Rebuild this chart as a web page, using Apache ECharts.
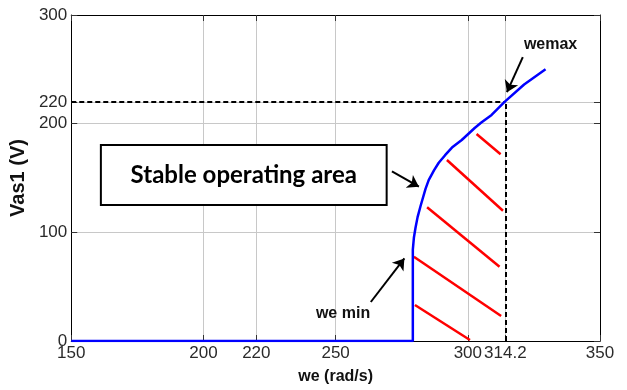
<!DOCTYPE html>
<html><head><meta charset="utf-8">
<script src="https://cdn.jsdelivr.net/npm/echarts@6/dist/echarts.min.js"></script>
<style>html,body{margin:0;padding:0;background:#fff}#c{width:627px;height:390px}</style>
</head><body><div id="c"></div>
<script>
// ---- data ----
const xTicks = [150, 200, 220, 250, 300, 314.2, 350];
const yTicks = [0, 100, 200, 220, 300];
const curveWe = [150, 279.2, 279.2, 279.6, 280.2, 281.0, 282.1, 284.0, 285.2, 287.2, 289.0, 291.4, 294.0, 297.7, 302.6, 305.1, 309.0, 313.9, 321.3, 329.4];
const curveV  = [0,   0,     84,    95,    104,   114,   124,   140,   148,   157,   164,   171,   178,   185,   196,   201,   208,   220,   236,   250];
const hatchStartWe = [303.3, 292.1, 284.6, 279.6, 280.0];
const hatchStartV  = [190.5, 166.6, 123.0, 77.6, 33.1];
const hatchEndWe   = [312.4, 313.3, 312.0, 312.6, 300.8];
const hatchEndV    = [171.8, 119.9, 68.4, 23.0, 0.9];
const weMax = 314.2;
const vMax = 220;
const boxText = 'Stable operating area';
const labelTexts = ['we min', 'wemax'];

// ---- annotation placement (data units) ----
const boxCorners = [[161.2, 180.4], [269.3, 125.2]];
const labelAt = [[252.8, 24.8], [331.3, 272.4]];
const arrows = [
  [[271.3, 156.0], [281.5, 142.0]],
  [[263.3, 35.9], [276.0, 76.0]],
  [[320.8, 261.3], [314.8, 229.0]]
];

const SANS = "'Liberation Sans',Arial,sans-serif";
const curve = curveWe.map((w, i) => [w, curveV[i]]);
const hatch = hatchStartWe.map((w, i) => [
  { coord: [w, hatchStartV[i]] },
  { coord: [hatchEndWe[i], hatchEndV[i]] }
]);

const tickLbl = { fontFamily: SANS, fontSize: 17, color: '#2a2a2a' };

const chart = echarts.init(document.getElementById('c'));
chart.setOption({
  animation: false,
  backgroundColor: '#fff',
  grid: { left: 65, right: 27, top: 15, bottom: 49, show: false },
  xAxis: [{
    type: 'value', min: 150, max: 350, position: 'bottom',
    axisLine: { show: true, onZero: false, lineStyle: { color: '#000', width: 1 } },
    axisTick: { show: true, inside: true, length: 6, customValues: xTicks, lineStyle: { color: '#333' } },
    axisLabel: Object.assign({ customValues: xTicks, margin: 4 }, tickLbl),
    splitLine: { show: true, lineStyle: { color: '#c8c8c8', width: 1 } },
    name: 'we (rad/s)', nameLocation: 'middle', nameGap: 28,
    nameTextStyle: { fontFamily: SANS, fontWeight: 'bold', fontSize: 16, color: '#111' }
  }, {
    type: 'value', min: 150, max: 350, position: 'top',
    axisLine: { show: true, onZero: false, lineStyle: { color: '#000', width: 1 } },
    axisTick: { show: true, inside: true, length: 6, customValues: xTicks, lineStyle: { color: '#333' } },
    axisLabel: { show: false }, splitLine: { show: false }
  }],
  yAxis: [{
    type: 'value', min: 0, max: 300, position: 'left',
    axisLine: { show: true, onZero: false, lineStyle: { color: '#000', width: 1 } },
    axisTick: { show: true, inside: true, length: 6, customValues: yTicks, lineStyle: { color: '#333' } },
    axisLabel: Object.assign({ customValues: yTicks, margin: 4 }, tickLbl),
    splitLine: { show: true, lineStyle: { color: '#c8c8c8', width: 1 } },
    name: 'Vas1 (V)', nameLocation: 'middle', nameGap: 24,
    nameTextStyle: { fontFamily: SANS, fontWeight: 'bold', fontSize: 20, color: '#111' }
  }, {
    type: 'value', min: 0, max: 300, position: 'right',
    axisLine: { show: true, onZero: false, lineStyle: { color: '#000', width: 1 } },
    axisTick: { show: true, inside: true, length: 6, customValues: yTicks, lineStyle: { color: '#333' } },
    axisLabel: { show: false }, splitLine: { show: false }
  }],
  series: [
    {
      name: 'box', type: 'line', data: [], silent: true, z: 3,
      markArea: {
        silent: true,
        itemStyle: { color: '#fff', borderColor: '#000', borderWidth: 2 },
        label: { show: true, position: 'inside', fontFamily: "Lato,'Open Sans',sans-serif", fontWeight: 'bold', fontSize: 24, color: '#000' },
        data: [[{ name: boxText, coord: boxCorners[0] }, { coord: boxCorners[1] }]]
      }
    },
    {
      name: 'guides', type: 'line', data: [], silent: true, z: 4,
      markLine: {
        silent: true, symbol: ['none', 'none'], label: { show: false },
        lineStyle: { color: '#000', type: [5, 3], width: 2 },
        data: [
          [{ coord: [150, vMax] }, { coord: [weMax, vMax] }],
          [{ coord: [weMax, 0] }, { coord: [weMax, vMax] }]
        ]
      }
    },
    {
      name: 'hatch', type: 'line', data: [], silent: true, z: 4,
      markLine: {
        silent: true, symbol: ['none', 'none'], label: { show: false },
        lineStyle: { color: '#ff0000', type: 'solid', width: 2.5 },
        data: hatch
      }
    },
    {
      name: 'Vas1', type: 'line', data: curve, symbol: 'none', z: 5,
      lineStyle: { color: '#0000ff', width: 2.5 }
    },
    {
      name: 'notes', type: 'line', data: [], silent: true, z: 6, color: '#000',
      markLine: {
        silent: true, symbol: ['none', 'arrow'], symbolSize: 11, label: { show: false },
        itemStyle: { color: '#000' },
        lineStyle: { color: '#000', type: 'solid', width: 2 },
        data: arrows.map(a => [{ coord: a[0] }, { coord: a[1] }])
      },
      markPoint: {
        silent: true, symbolSize: 1, itemStyle: { color: 'rgba(0,0,0,0)' },
        label: { show: true, position: 'inside', fontFamily: SANS, fontWeight: 'bold', fontSize: 16, color: '#111', formatter: p => p.name },
        data: labelTexts.map((t, i) => ({ name: t, coord: labelAt[i] }))
      }
    }
  ]
});
</script></body></html>
